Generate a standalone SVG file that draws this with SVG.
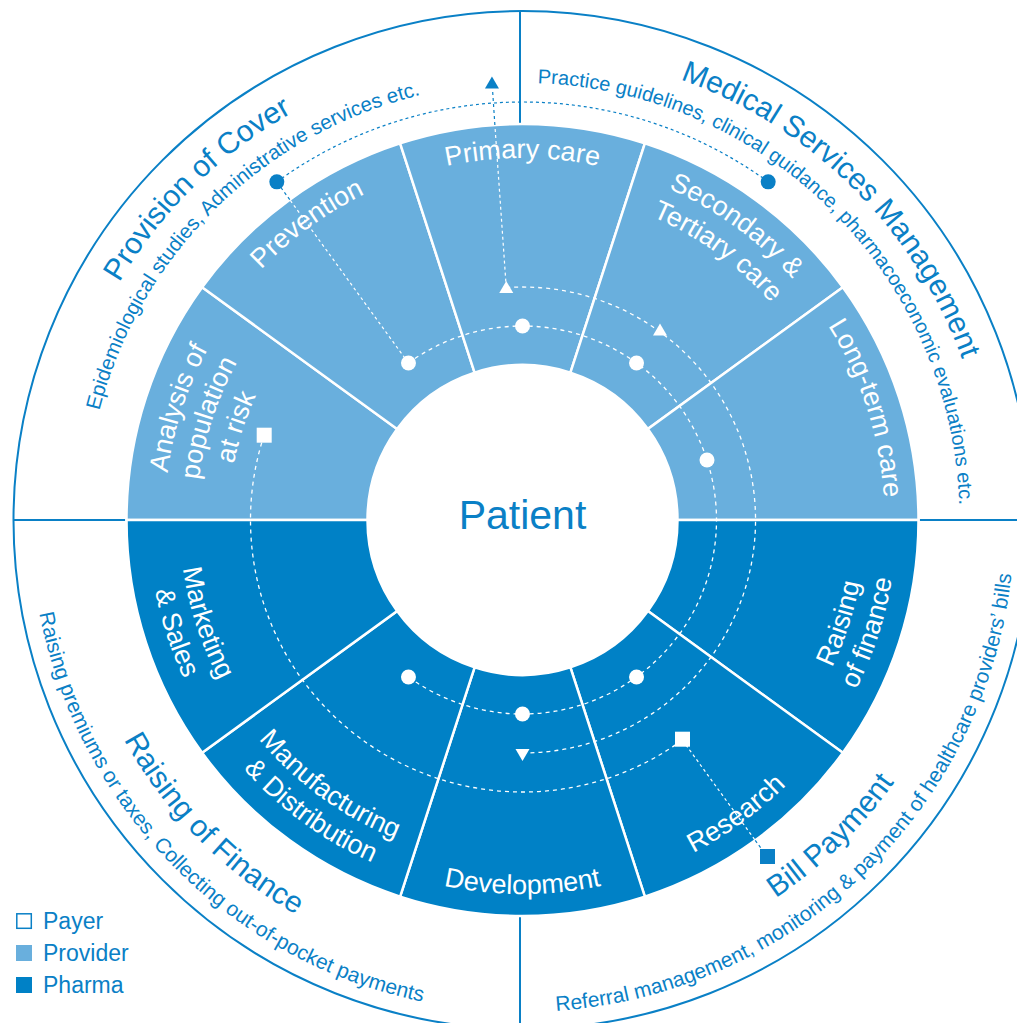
<svg xmlns="http://www.w3.org/2000/svg" xmlns:xlink="http://www.w3.org/1999/xlink" width="1017" height="1023" viewBox="0 0 1017 1023">
<style>
.light{fill:#69AFDD;stroke:#fff;stroke-width:2.5}
.dark{fill:#0081C6;stroke:#fff;stroke-width:2.5}
.lbl{fill:#fff;font-family:"Liberation Sans",Arial,Helvetica,sans-serif;font-size:27px}
.ttl{fill:#0A80C6;font-family:"Liberation Sans",Arial,Helvetica,sans-serif;font-size:30px}
.sub{fill:#0A80C6;font-family:"Liberation Sans",Arial,Helvetica,sans-serif;font-size:20.5px}
.leg{fill:#0A80C6;font-family:"Liberation Sans",Arial,Helvetica,sans-serif;font-size:23px}
.dw{fill:none;stroke:#fff;stroke-width:1.3;stroke-dasharray:4 4}
.dwr{fill:none;stroke:#fff;stroke-width:1.2;stroke-dasharray:3 3}
.db{fill:none;stroke:#0A80C6;stroke-width:1.2;stroke-dasharray:3 3}
.frame{fill:none;stroke:#0A80C6;stroke-width:2}
.wm{fill:#fff}
.bm{fill:#0A80C6}
</style>
<defs>
<path id="u362" d="M161.88,488.45 A362,362 0 0 1 883.12,488.45"/>
<path id="u358" d="M165.86,488.80 A358,358 0 0 1 879.14,488.80"/>
<path id="u330" d="M193.76,491.24 A330,330 0 0 1 851.24,491.24"/>
<path id="u326" d="M197.74,491.59 A326,326 0 0 1 847.26,491.59"/>
<path id="u294" d="M229.62,494.38 A294,294 0 0 1 815.38,494.38"/>
<path id="u468" d="M56.28,479.21 A468,468 0 0 1 988.72,479.21"/>
<path id="u437" d="M87.16,481.91 A437,437 0 0 1 957.84,481.91"/>
<path id="l343" d="M180.81,549.89 A343,343 0 0 0 864.19,549.89"/>
<path id="l374" d="M149.92,552.60 A374,374 0 0 0 895.08,552.60"/>
<path id="l455" d="M69.23,559.66 A455,455 0 0 0 975.77,559.66"/>
<path id="l492" d="M32.37,562.88 A492,492 0 0 0 1012.63,562.88"/>
</defs>
<rect width="1017" height="1023" fill="#fff"/>

<g id="frame">
<circle class="frame" cx="522.5" cy="520" r="509"/>
<line class="frame" x1="520" y1="11" x2="520" y2="124"/>
<line class="frame" x1="520" y1="916" x2="520" y2="1023"/>
<line class="frame" x1="13" y1="520" x2="127" y2="520"/>
<line class="frame" x1="918" y1="520" x2="1017" y2="520"/>
</g>

<g id="provision-of-cover">
<text class="ttl" transform="rotate(-44.5 522.5 520)"><textPath href="#u468" xlink:href="#u468" startOffset="50%" text-anchor="middle">Provision of Cover</textPath></text>
<text class="sub" transform="rotate(-44.5 522.5 520)"><textPath href="#u437" xlink:href="#u437" startOffset="50%" text-anchor="middle">Epidemiological studies, Administrative services etc.</textPath></text>
</g>
<g id="medical-services-management">
<text class="ttl" transform="rotate(44.8 522.5 520)"><textPath href="#u468" xlink:href="#u468" startOffset="50%" text-anchor="middle">Medical Services Management</textPath></text>
<text class="sub" style="font-size:20px" transform="rotate(45 522.5 520)"><textPath href="#u437" xlink:href="#u437" startOffset="50%" text-anchor="middle">Practice guidelines, clinical guidance, pharmacoeconomic evaluations etc.</textPath></text>
</g>
<g id="raising-of-finance-outer">
<text class="ttl" transform="rotate(45.5 522.5 520)"><textPath href="#l455" xlink:href="#l455" startOffset="50%" text-anchor="middle">Raising of Finance</textPath></text>
<text class="sub" style="font-size:21px" transform="rotate(45.4 522.5 520)"><textPath href="#l492" xlink:href="#l492" startOffset="50%" text-anchor="middle">Raising premiums or taxes, Collecting out-of-pocket payments</textPath></text>
</g>
<g id="bill-payment">
<text class="ttl" transform="rotate(-44.3 522.5 520)"><textPath href="#l455" xlink:href="#l455" startOffset="50%" text-anchor="middle">Bill Payment</textPath></text>
<text class="sub" style="font-size:21px" transform="rotate(-43.8 522.5 520)"><textPath href="#l492" xlink:href="#l492" startOffset="50%" text-anchor="middle">Referral management, monitoring &amp; payment of healthcare providers’ bills</textPath></text>
</g>

<g id="analysis">
<path class="light" d="M126.5,520 A396,396 0 0 1 202.13,287.24 L397.10,428.89 A155,155 0 0 0 367.5,520 Z"/>
<g transform="rotate(-72 522.5 520)">
<text class="lbl"><textPath href="#u358" xlink:href="#u358" startOffset="50%" text-anchor="middle">Analysis of</textPath></text>
<text class="lbl"><textPath href="#u326" xlink:href="#u326" startOffset="50%" text-anchor="middle">population</textPath></text>
<text class="lbl"><textPath href="#u294" xlink:href="#u294" startOffset="50%" text-anchor="middle">at risk</textPath></text>
</g>
</g>
<g id="prevention">
<path class="light" d="M202.13,287.24 A396,396 0 0 1 400.13,143.38 L474.60,372.59 A155,155 0 0 0 397.10,428.89 Z"/>
<text class="lbl" transform="rotate(-36 522.5 520)"><textPath href="#u362" xlink:href="#u362" startOffset="50%" text-anchor="middle">Prevention</textPath></text>
</g>
<g id="primary-care">
<path class="light" d="M400.13,143.38 A396,396 0 0 1 644.87,143.38 L570.40,372.59 A155,155 0 0 0 474.60,372.59 Z"/>
<text class="lbl"><textPath href="#u362" xlink:href="#u362" startOffset="50%" text-anchor="middle">Primary care</textPath></text>
</g>
<g id="secondary-tertiary">
<path class="light" d="M644.87,143.38 A396,396 0 0 1 842.87,287.24 L647.90,428.89 A155,155 0 0 0 570.40,372.59 Z"/>
<g transform="rotate(36 522.5 520)">
<text class="lbl"><textPath href="#u362" xlink:href="#u362" startOffset="50%" text-anchor="middle">Secondary &amp;</textPath></text>
<text class="lbl"><textPath href="#u330" xlink:href="#u330" startOffset="50%" text-anchor="middle">Tertiary care</textPath></text>
</g>
</g>
<g id="long-term-care">
<path class="light" d="M842.87,287.24 A396,396 0 0 1 918.5,520 L677.5,520 A155,155 0 0 0 647.90,428.89 Z"/>
<text class="lbl" transform="rotate(72 522.5 520)"><textPath href="#u362" xlink:href="#u362" startOffset="50%" text-anchor="middle">Long-term care</textPath></text>
</g>
<g id="raising-of-finance">
<path class="dark" d="M918.5,520 A396,396 0 0 1 842.87,752.76 L647.90,611.11 A155,155 0 0 0 677.5,520 Z"/>
<g transform="rotate(-72 522.5 520)">
<text class="lbl"><textPath href="#l343" xlink:href="#l343" startOffset="50%" text-anchor="middle">Raising</textPath></text>
<text class="lbl"><textPath href="#l374" xlink:href="#l374" startOffset="50%" text-anchor="middle">of finance</textPath></text>
</g>
</g>
<g id="research">
<path class="dark" d="M842.87,752.76 A396,396 0 0 1 644.87,896.62 L570.40,667.41 A155,155 0 0 0 647.90,611.11 Z"/>
<text class="lbl" transform="rotate(-36 522.5 520)"><textPath href="#l374" xlink:href="#l374" startOffset="50%" text-anchor="middle">Research</textPath></text>
</g>
<g id="development">
<path class="dark" d="M644.87,896.62 A396,396 0 0 1 400.13,896.62 L474.60,667.41 A155,155 0 0 0 570.40,667.41 Z"/>
<text class="lbl"><textPath href="#l374" xlink:href="#l374" startOffset="50%" text-anchor="middle">Development</textPath></text>
</g>
<g id="manufacturing">
<path class="dark" d="M400.13,896.62 A396,396 0 0 1 202.13,752.76 L397.10,611.11 A155,155 0 0 0 474.60,667.41 Z"/>
<g transform="rotate(36 522.5 520)">
<text class="lbl"><textPath href="#l343" xlink:href="#l343" startOffset="50%" text-anchor="middle">Manufacturing</textPath></text>
<text class="lbl"><textPath href="#l374" xlink:href="#l374" startOffset="50%" text-anchor="middle">&amp; Distribution</textPath></text>
</g>
</g>
<g id="marketing">
<path class="dark" d="M202.13,752.76 A396,396 0 0 1 126.5,520 L367.5,520 A155,155 0 0 0 397.10,611.11 Z"/>
<g transform="rotate(72 522.5 520)">
<text class="lbl"><textPath href="#l343" xlink:href="#l343" startOffset="50%" text-anchor="middle">Marketing</textPath></text>
<text class="lbl"><textPath href="#l374" xlink:href="#l374" startOffset="50%" text-anchor="middle">&amp; Sales</textPath></text>
</g>
</g>

<g id="patient">
<circle cx="522.5" cy="520" r="155" fill="#fff"/>
<text x="522.5" y="529" text-anchor="middle" style="fill:#0A80C6;font-family:'Liberation Sans',Arial,sans-serif;font-size:41px">Patient</text>
</g>

<g id="connectors">
<path class="dw" d="M408.47,363.05 A194,194 0 1 1 408.47,676.95"/>
<path class="dw" d="M506.25,287.57 A233,233 0 1 1 522.5,753"/>
<path class="dw" d="M264.11,435.04 A272,272 0 0 0 682.38,740.05"/>
<path class="db" d="M276.81,181.83 A418,418 0 0 1 768.19,181.83"/>
<path class="dwr" d="M408.47,363.05 L289.74,199.63"/>
<path class="db" d="M289.74,199.63 L276.81,181.83"/>
<path class="dwr" d="M506.25,287.57 L494.88,124.96"/>
<path class="db" d="M494.88,124.96 L492.5,89"/>
<path class="dwr" d="M682.38,740.05 L755.26,840.37"/>
<path class="db" d="M755.26,840.37 L766,855"/>
</g>

<g id="markers">
<circle class="wm" cx="408.47" cy="363.05" r="7.5"/>
<circle class="wm" cx="522.5" cy="326" r="7.5"/>
<circle class="wm" cx="636.53" cy="363.05" r="7.5"/>
<circle class="wm" cx="707" cy="460.05" r="7.5"/>
<circle class="wm" cx="408.47" cy="676.95" r="7.5"/>
<circle class="wm" cx="522.5" cy="714" r="7.5"/>
<circle class="wm" cx="636.53" cy="676.95" r="7.5"/>
<polygon class="wm" points="506.25,281 513.25,293 499.25,293"/>
<polygon class="wm" points="660,323.5 667,335.5 653,335.5"/>
<polygon class="wm" points="515.5,749 529.5,749 522.5,761"/>
<rect class="wm" x="256.7" y="427.7" width="15" height="15"/>
<rect class="wm" x="675" y="731.7" width="15" height="15"/>
<circle class="bm" cx="276.81" cy="181.83" r="7.5"/>
<circle class="bm" cx="768.19" cy="181.83" r="7.5"/>
<polygon class="bm" points="491.95,76.5 498.95,88.5 484.95,88.5"/>
<rect class="bm" x="760" y="849" width="15" height="15"/>
</g>

<g id="legend">
<rect x="16.8" y="913.8" width="14.5" height="14.5" fill="#fff" stroke="#0A80C6" stroke-width="1.5"/>
<text class="leg" x="43" y="929">Payer</text>
<rect x="16" y="945" width="16" height="16" fill="#69AFDD"/>
<text class="leg" x="43" y="961">Provider</text>
<rect x="16" y="977" width="16" height="16" fill="#0081C6"/>
<text class="leg" x="43" y="992.5">Pharma</text>
</g>
</svg>
